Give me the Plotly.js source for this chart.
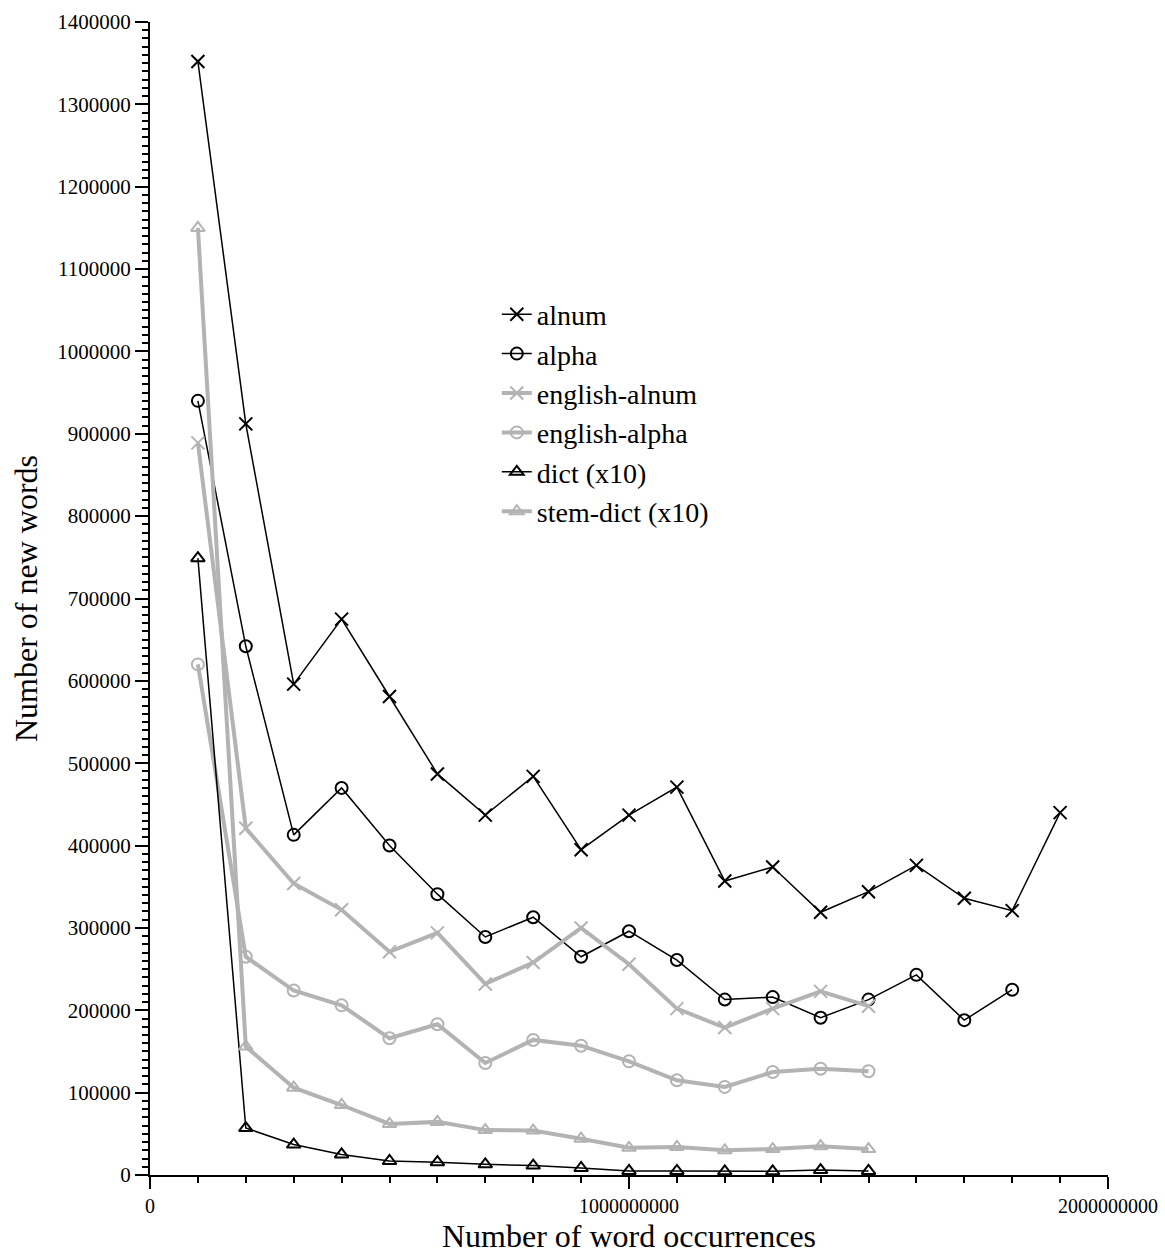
<!DOCTYPE html>
<html>
<head>
<meta charset="utf-8">
<script src="https://cdn.plot.ly/plotly-3.0.1.min.js"></script>
<style>html,body{margin:0;padding:0;background:#fff;}#chart{width:1165px;height:1254px;}</style>
</head>
<body>
<div id="chart"></div>
<script>
// Number of word occurrences (x) for each sample point
var occurrences = [100000000, 200000000, 300000000, 400000000, 500000000, 600000000, 700000000, 800000000, 900000000, 1000000000,
  1100000000, 1200000000, 1300000000, 1400000000, 1500000000, 1600000000, 1700000000, 1800000000, 1900000000];

var alnum = [1352000, 912000, 596000, 675000, 581000, 487000, 437000, 484000, 395000, 437000,
  471000, 357000, 374000, 319000, 344000, 376000, 336000, 321000, 440000];
var alpha = [940000, 642000, 413000, 470000, 400000, 341000, 289000, 313000, 265000, 296000,
  261000, 213000, 216000, 191000, 213000, 243000, 188000, 225000];
var englishAlnum = [889000, 421000, 354000, 322000, 271000, 294000, 232000, 258000, 300000, 256000,
  202000, 179000, 202000, 223000, 205000];
var englishAlpha = [620000, 265000, 224000, 206000, 166000, 183000, 136000, 164000, 157000, 138000,
  115000, 107000, 125000, 129000, 126000];
var dict10 = [749000, 57000, 37000, 25000, 17000, 15500, 13000, 11500, 8500, 5000,
  5000, 4500, 4500, 6000, 5000];
var stemDict10 = [1150000, 156000, 106000, 85000, 62000, 64500, 54500, 54000, 44000, 33000,
  34000, 30000, 31500, 35000, 31500];

var seriesNames = ['alnum', 'alpha', 'english-alnum', 'english-alpha', 'dict (x10)', 'stem-dict (x10)'];
var xTickVals = [0, 1000000000, 2000000000];
var xTickText = ['0', '1000000000', '2000000000'];

var BLACK = '#000000';
var GRAY = '#b3b3b3';

function mk(name, ys, color, lw, symbol, size, mlw) {
  return {
    type: 'scatter', mode: 'lines+markers', name: name,
    x: occurrences.slice(0, ys.length), y: ys,
    line: {color: color, width: lw},
    marker: {symbol: symbol, size: size, color: color, line: {color: color, width: mlw}},
    cliponaxis: false
  };
}

var data = [
  mk(seriesNames[0], alnum, BLACK, 1.5, 'x-thin-open', 13, 2),
  mk(seriesNames[1], alpha, BLACK, 1.5, 'circle-open', 12, 2),
  mk(seriesNames[2], englishAlnum, GRAY, 4, 'x-thin-open', 13, 2),
  mk(seriesNames[3], englishAlpha, GRAY, 4, 'circle-open', 12, 2),
  mk(seriesNames[4], dict10, BLACK, 1.5, 'triangle-up-open', 12, 2),
  mk(seriesNames[5], stemDict10, GRAY, 4, 'triangle-up-open', 12, 2)
];

var FONT = '"Liberation Serif", "Times New Roman", Times, serif';

var layout = {
  width: 1165, height: 1254,
  margin: {l: 150, r: 57, t: 22, b: 79, pad: 0},
  paper_bgcolor: '#ffffff', plot_bgcolor: '#ffffff',
  font: {family: FONT, color: '#000000', size: 22},
  showlegend: true,
  legend: {
    x: 0.362, y: 0.768, xanchor: 'left', yanchor: 'top',
    font: {family: FONT, size: 28, color: '#000'},
    bgcolor: 'rgba(0,0,0,0)', borderwidth: 0, tracegroupgap: 0
  },
  xaxis: {
    range: [0, 2000000000], autorange: false,
    showgrid: false, zeroline: false,
    showline: true, linecolor: '#000', linewidth: 2,
    ticks: 'outside', ticklen: 12, tickwidth: 2, tickcolor: '#000',
    tickmode: 'array', tickvals: xTickVals, ticktext: xTickText,
    tickfont: {family: FONT, size: 20},
    minor: {dtick: 100000000, tick0: 0, ticks: 'outside', ticklen: 6, tickwidth: 2, tickcolor: '#000', showgrid: false},
    title: {text: 'Number of word occurrences', font: {family: FONT, size: 32}, standoff: 12}
  },
  yaxis: {
    range: [0, 1400000], autorange: false,
    showgrid: false, zeroline: false,
    showline: true, linecolor: '#000', linewidth: 2,
    ticks: 'outside', ticklen: 13, tickwidth: 2, tickcolor: '#000',
    dtick: 100000, tick0: 0, tickformat: 'd',
    tickfont: {family: FONT, size: 21},
    minor: {dtick: 10000, tick0: 0, ticks: 'outside', ticklen: 6, tickwidth: 2, tickcolor: '#000', showgrid: false},
    title: {text: 'Number of new words', font: {family: FONT, size: 32}, standoff: 10}
  }
};

Plotly.newPlot('chart', data, layout, {displayModeBar: false, staticPlot: true});
</script>
</body>
</html>
